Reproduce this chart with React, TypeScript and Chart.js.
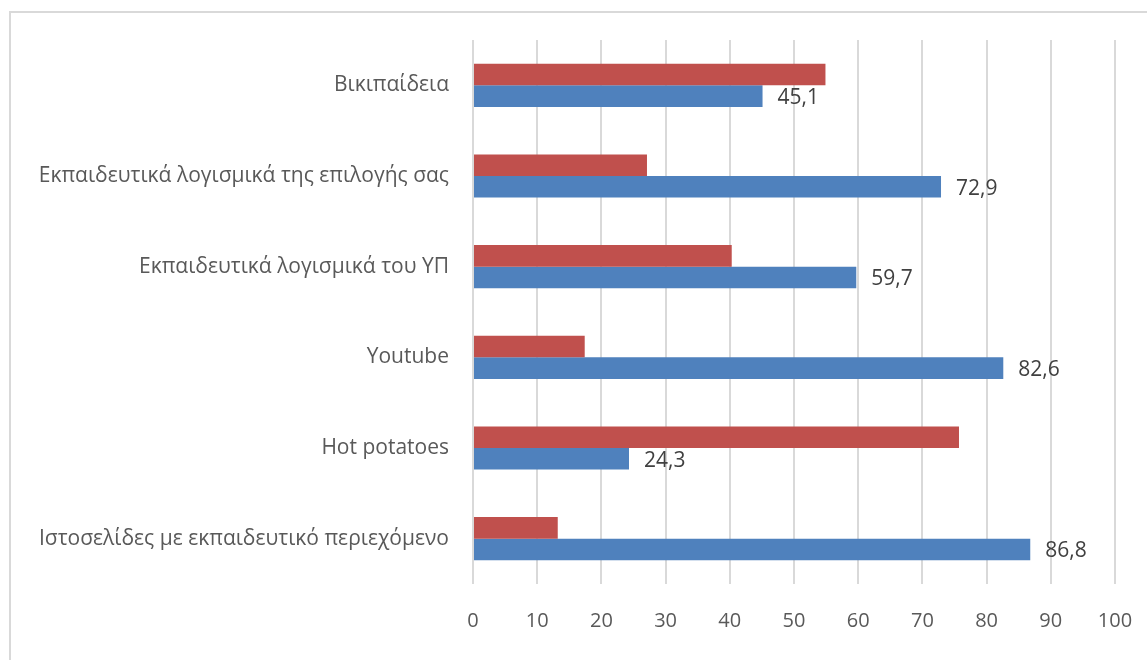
import React, { useEffect, useRef } from "react";
import { Chart, registerables } from "chart.js";

Chart.register(...registerables);

const categories = [
  "Βικιπαίδεια",
  "Εκπαιδευτικά λογισμικά της επιλογής σας",
  "Εκπαιδευτικά λογισμικά του ΥΠ",
  "Youtube",
  "Hot potatoes",
  "Ιστοσελίδες με εκπαιδευτικό περιεχόμενο",
];
const blueValues = [45.1, 72.9, 59.7, 82.6, 24.3, 86.8];
const redValues = [54.9, 27.1, 40.3, 17.4, 75.7, 13.2];
const xTicks = [0, 10, 20, 30, 40, 50, 60, 70, 80, 90, 100];

const FONT = "'Open Sans', 'Noto Sans', sans-serif";

const framePlugin = {
  id: "frame",
  beforeDraw(chart: any) {
    const ctx = chart.ctx;
    ctx.save();
    ctx.fillStyle = "#ffffff";
    ctx.fillRect(0, 0, chart.width, chart.height);
    ctx.strokeStyle = "#d9d9d9";
    ctx.lineWidth = 2;
    ctx.beginPath();
    ctx.moveTo(10, chart.height + 5);
    ctx.lineTo(10, 12);
    ctx.lineTo(chart.width + 5, 12);
    ctx.stroke();
    ctx.restore();
  },
};

const labelPlugin = {
  id: "valueLabels",
  afterDatasetsDraw(chart: any) {
    const ctx = chart.ctx;
    const meta = chart.getDatasetMeta(1);
    ctx.save();
    ctx.font = `21px ${FONT}`;
    ctx.fillStyle = "#404040";
    ctx.textAlign = "left";
    ctx.textBaseline = "middle";
    meta.data.forEach((bar: any, i: number) => {
      const v = blueValues[i];
      const txt = v.toFixed(1).replace(".", ",");
      ctx.fillText(txt, bar.x + 15, bar.y + 2);
    });
    ctx.restore();
  },
};

export default function App() {
  const ref = useRef<HTMLCanvasElement>(null);
  useEffect(() => {
    if (!ref.current) return;
    const chart = new Chart(ref.current, {
      type: "bar",
      data: {
        labels: categories,
        datasets: [
          {
            label: "Όχι",
            data: redValues,
            backgroundColor: "#C0504D",
            categoryPercentage: 0.476,
            barPercentage: 1,
          },
          {
            label: "Ναι",
            data: blueValues,
            backgroundColor: "#4F81BD",
            categoryPercentage: 0.476,
            barPercentage: 1,
          },
        ],
      },
      options: {
        indexAxis: "y",
        animation: false,
        responsive: false,
        layout: { padding: { top: 40, right: 32, left: 0, bottom: 0 } },
        plugins: {
          legend: { display: false },
          tooltip: { enabled: false },
        },
        scales: {
          x: {
            min: 0,
            max: 100,
            afterBuildTicks(scale: any) {
              scale.ticks = xTicks.map((v) => ({ value: v }));
            },
            afterFit(scale: any) {
              scale.height = 76;
              scale.paddingLeft = 0;
              scale.paddingRight = 0;
            },
            grid: { color: "#d9d9d9", lineWidth: 2, drawTicks: false },
            border: { display: false },
            ticks: {
              color: "#595959",
              font: { family: FONT, size: 20 },
              padding: 25,
            },
          },
          y: {
            afterFit(scale: any) {
              scale.width = 473;
              scale.paddingTop = 0;
              scale.paddingBottom = 0;
            },
            grid: { display: false },
            border: { display: false },
            ticks: {
              color: "#595959",
              font: { family: FONT, size: 21 },
              padding: 16,
            },
          },
        },
      },
      plugins: [framePlugin, labelPlugin],
    });
    return () => chart.destroy();
  }, []);
  return (
    <div style={{ position: "fixed", left: 0, top: 0, width: 1147, height: 660 }}>
      <canvas ref={ref} width={1147} height={660} style={{ display: "block" }} />
    </div>
  );
}
